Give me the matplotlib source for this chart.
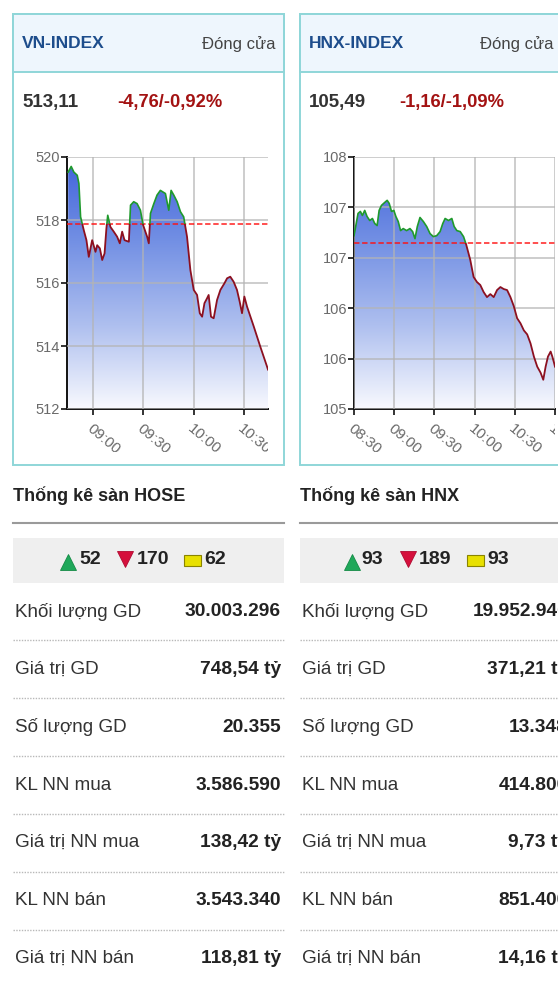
import numpy as np
import matplotlib
matplotlib.use('Agg')
import matplotlib.pyplot as plt
from matplotlib.patches import Rectangle
from matplotlib.colors import LinearSegmentedColormap
from matplotlib.transforms import Bbox, TransformedBbox

plt.rcParams['font.family'] = ['Liberation Sans', 'DejaVu Sans']

W, H = 558, 983

# ---- data ----
# VN-INDEX, minutes after 09:00
vn_t = [-14.9, -13.1, -11.5, -9.5, -8.5, -7.5, -5.6, -4.0, -2.6, -0.6,
        1.4, 2.4, 4.0, 5.4, 6.8, 7.9, 8.7, 10.3, 12.3, 14.3,
        15.9, 17.3, 18.7, 21.3, 22.3, 24.2, 26.2, 28.2, 29.8, 32.2,
        33.2, 34.2, 36.2, 38.1, 40.1, 43.1, 45.1, 46.5, 48.1, 50.1,
        52.1, 54.0, 56.0, 58.0, 60.0, 62.0, 63.6, 65.0, 66.4, 67.9,
        68.9, 70.3, 71.9, 73.9, 75.9, 78.3, 79.9, 81.8, 83.8, 85.8,
        87.4, 88.8, 90.2, 91.8, 95.8, 99.7, 103.7, 104.3]
vn_v = [519.52, 519.70, 519.52, 519.42, 519.16, 518.10, 517.68, 517.36, 516.83, 517.36,
        516.99, 517.20, 517.10, 516.73, 516.94, 517.73, 518.15, 517.78, 517.63, 517.47,
        517.26, 517.63, 517.36, 517.31, 518.47, 518.58, 518.52, 518.31, 517.84, 517.47,
        517.26, 518.21, 518.52, 518.79, 518.94, 518.84, 518.31, 518.94, 518.79, 518.58,
        518.26, 518.10, 517.47, 516.41, 515.78, 515.62, 515.04, 514.93, 515.36, 515.51,
        515.62, 514.93, 514.88, 515.46, 515.78, 515.99, 516.15, 516.20, 516.04, 515.78,
        515.41, 515.04, 515.57, 515.25, 514.62, 513.98, 513.35, 513.25]
vn_ref = 517.87
vn_xticks = [0, 30, 60, 90]
vn_xlabels = ['09:00', '09:30', '10:00', '10:30']
vn_yticks = [512, 514, 516, 518, 520]
vn_ylabels = ['512', '514', '516', '518', '520']

# HNX-INDEX, minutes after 08:30
hnx_t = [0, 1.25, 3, 4.75, 6.25, 8, 9.75, 11.75, 13.75, 15.5,
         17.25, 18.75, 20.5, 23, 24.75, 26.25, 28, 29.75, 31.25, 33,
         34.75, 36.75, 39.25, 41.75, 43.75, 45.5, 47.25, 49.25, 51.75, 54.25,
         56.75, 59.25, 61.75, 64.25, 66.25, 68, 70.5, 73, 74.75, 76.75,
         79.25, 81.75, 83.75, 86.75, 89.25, 91.75, 94.25, 96.75, 99.25, 101.75,
         104.25, 106.75, 109.25, 111.75, 114.25, 116.75, 119.25, 121.75, 124.25, 126.75,
         129.25, 131.75, 134.25, 136.75, 139.25, 141.25, 143, 144.75, 146.75, 148,
         149.25, 150]
hnx_v = [106.72, 106.81, 106.94, 106.96, 106.92, 106.97, 106.91, 106.87, 106.89, 106.84,
         106.82, 106.97, 107.02, 107.05, 107.07, 107.04, 106.96, 106.97, 106.91, 106.86,
         106.77, 106.79, 106.77, 106.79, 106.76, 106.69, 106.81, 106.90, 106.86, 106.81,
         106.74, 106.71, 106.72, 106.76, 106.84, 106.89, 106.87, 106.89, 106.81, 106.77,
         106.76, 106.71, 106.63, 106.48, 106.31, 106.26, 106.23, 106.16, 106.11, 106.14,
         106.11, 106.18, 106.21, 106.19, 106.18, 106.11, 106.02, 105.90, 105.85, 105.78,
         105.74, 105.65, 105.52, 105.42, 105.36, 105.29, 105.42, 105.52, 105.57, 105.52,
         105.46, 105.42]
hnx_ref = 106.65
hnx_xticks = [0, 30, 60, 90, 120, 150]
hnx_xlabels = ['08:30', '09:00', '09:30', '10:00', '10:30', '11:00']
hnx_yticks = [105, 105.5, 106, 106.5, 107, 107.5]
hnx_ylabels = ['105', '106', '106', '107', '107', '108']

names = ['VN-INDEX', 'HNX-INDEX']
closes = ['513,11', '105,49']
changes = ['-4,76/-0,92%', '-1,16/-1,09%']
floors = ['HOSE', 'HNX']
ups = [52, 93]
downs = [170, 189]
flats = [62, 93]
row_labels = ['Khối lượng GD', 'Giá trị GD', 'Số lượng GD', 'KL NN mua',
              'Giá trị NN mua', 'KL NN bán', 'Giá trị NN bán']
hose_vals = ['30.003.296', '748,54 tỷ', '20.355', '3.586.590', '138,42 tỷ', '3.543.340', '118,81 tỷ']
hnx_vals = ['19.952.940', '371,21 tỷ', '13.348', '414.800', '9,73 tỷ', '851.400', '14,16 tỷ']

fig = plt.figure(figsize=(W / 100, H / 100), dpi=100)
fig.patch.set_facecolor('white')

# pixel canvas for the widget frame and the tables
bg = fig.add_axes([0, 0, 1, 1])
bg.set_xlim(0, W)
bg.set_ylim(H, 0)
bg.axis('off')
bg.set_zorder(0)

def px(l, t, r, b):
    return [l / W, 1 - b / H, (r - l) / W, (b - t) / H]

grad_cmap = LinearSegmentedColormap.from_list('fill', ['#f8f9fe', '#aebfef', '#7390e4', '#4062da'])


def draw_chart(ax, dx, t, v, ref, xlim, ylim, xticks, xlabels, yticks, ylabels):
    poly = ax.fill_between(t, v, ylim[0], color='none', lw=0)
    grad = np.linspace(1, 0, 256).reshape(-1, 1)
    im = ax.imshow(grad, extent=[xlim[0], xlim[1], ylim[0], ylim[1]], aspect='auto',
                   cmap=grad_cmap, origin='upper', zorder=1)
    im.set_clip_path(poly.get_paths()[0], transform=ax.transData)
    ax.set_xlim(xlim)
    ax.set_ylim(ylim)

    up = ax.plot(t, v, color='#1f9a2c', lw=1.2, zorder=4)[0]
    dn = ax.plot(t, v, color='#8c1020', lw=1.3, zorder=4)[0]
    up.set_clip_path(Rectangle((xlim[0], ref), xlim[1] - xlim[0], ylim[1] - ref, transform=ax.transData))
    dn.set_clip_path(Rectangle((xlim[0], ylim[0]), xlim[1] - xlim[0], ref - ylim[0], transform=ax.transData))
    ax.axhline(ref, color='#ff1010', lw=1.3, ls=(0, (3, 1.5)), alpha=0.8, zorder=3)

    ax.set_xticks(xticks, xlabels)
    ax.set_yticks(yticks, ylabels)
    ax.grid(True, color='#b4b4b4', lw=1.1, alpha=0.85)
    ax.set_axisbelow(False)
    for s in ['top', 'right']:
        ax.spines[s].set_visible(False)
    for s in ['left', 'bottom']:
        ax.spines[s].set_linewidth(1.4)
        ax.spines[s].set_color('#111111')
    ax.tick_params(axis='both', length=4, width=1.2, color='#111111', labelcolor='#6a6a6a',
                   labelsize=10.5)
    ax.tick_params(axis='y', pad=1)
    ax.tick_params(axis='x', pad=5)
    clip = TransformedBbox(Bbox.from_extents((15 + dx) / W, 1 - 452 / H, (268 + dx) / W, 1 - 140 / H),
                           fig.transFigure)
    for lab in ax.get_xticklabels():
        lab.set_rotation(-40)
        lab.set_ha('left')
        lab.set_va('top')
        lab.set_rotation_mode('anchor')
        lab.set_fontsize(11)
        lab.set_clip_box(clip)
        lab.set_clip_on(True)


charts = [
    (vn_t, vn_v, vn_ref, (-15.6, 104.3), (512, 520), vn_xticks, vn_xlabels, vn_yticks, vn_ylabels),
    (hnx_t, hnx_v, hnx_ref, (0, 150), (105, 107.5), hnx_xticks, hnx_xlabels, hnx_yticks, hnx_ylabels),
]
values = [hose_vals, hnx_vals]
icon_x = [[68, 125, 184], [352, 408, 467]]
num_x = [[79, 137, 204], [361, 419, 487]]
close_x = [275, 554]   # right edge of "Đóng cửa"

teal = '#8fd6d8'
for i, dx in enumerate([0, 287]):
    # widget box
    bg.add_patch(Rectangle((13 + dx, 14), 271, 451, fc='white', ec=teal, lw=1.4))
    bg.add_patch(Rectangle((13 + dx, 14), 271, 58, fc='#eef6fd', ec=teal, lw=1.4))
    bg.text(22 + dx, 44, names[i], fontsize=12.5, fontweight='bold', color='#1d4d8c', va='center')
    bg.text(close_x[i], 44, 'Đóng cửa', fontsize=12, color='#444444', va='center', ha='right')
    bg.text(22 + dx, 103, closes[i], fontsize=13.5, fontweight='bold', color='#333333', va='center')
    bg.text(117 + dx if i == 0 else 112 + dx, 103, changes[i], fontsize=13.2, fontweight='bold',
            color='#a31212', va='center')

    ax = fig.add_axes(px(67 + dx, 157, 268 + dx, 409))
    ax.set_zorder(2)
    draw_chart(ax, dx, *charts[i])

    # floor statistics
    bg.text(13 + dx, 496, 'Thống kê sàn ' + floors[i], fontsize=13, fontweight='bold',
            color='#222222', va='center')
    bg.plot([13 + dx, 284 + dx], [523, 523], color='#9a9a9a', lw=1.5)
    bg.add_patch(Rectangle((13 + dx, 538), 271, 45, fc='#efefef', ec='none'))
    gx, rx, yx = icon_x[i]
    bg.plot(gx, 562, marker='^', ms=11.5, color='#1fa85a', mec='#148a45', mew=0.6, ls='none')
    bg.plot(rx, 559, marker='v', ms=11.5, color='#d5103c', mec='#b00a30', mew=0.6, ls='none')
    bg.add_patch(Rectangle((yx, 555), 17, 11, fc='#e8e000', ec='#8a8400', lw=0.8))
    for xx, n in zip(num_x[i], [ups[i], downs[i], flats[i]]):
        bg.text(xx, 560, str(n), fontsize=14, fontweight='bold', color='#222222', va='center')

    for k, lab in enumerate(row_labels):
        y = 612 + k * 57.7
        bg.text(15 + dx, y, lab, fontsize=13.6, color='#333333', va='center')
        bg.text(281 + dx, y, values[i][k], fontsize=13.8, fontweight='bold', color='#222222',
                va='center', ha='right')
        if k < len(row_labels) - 1:
            yl = 640 + k * 57.9
            bg.plot([13 + dx, 284 + dx], [yl, yl], color='#b8b8b8', lw=1, ls=(0, (1, 1)))

fig.savefig('out.png', dpi=100)
